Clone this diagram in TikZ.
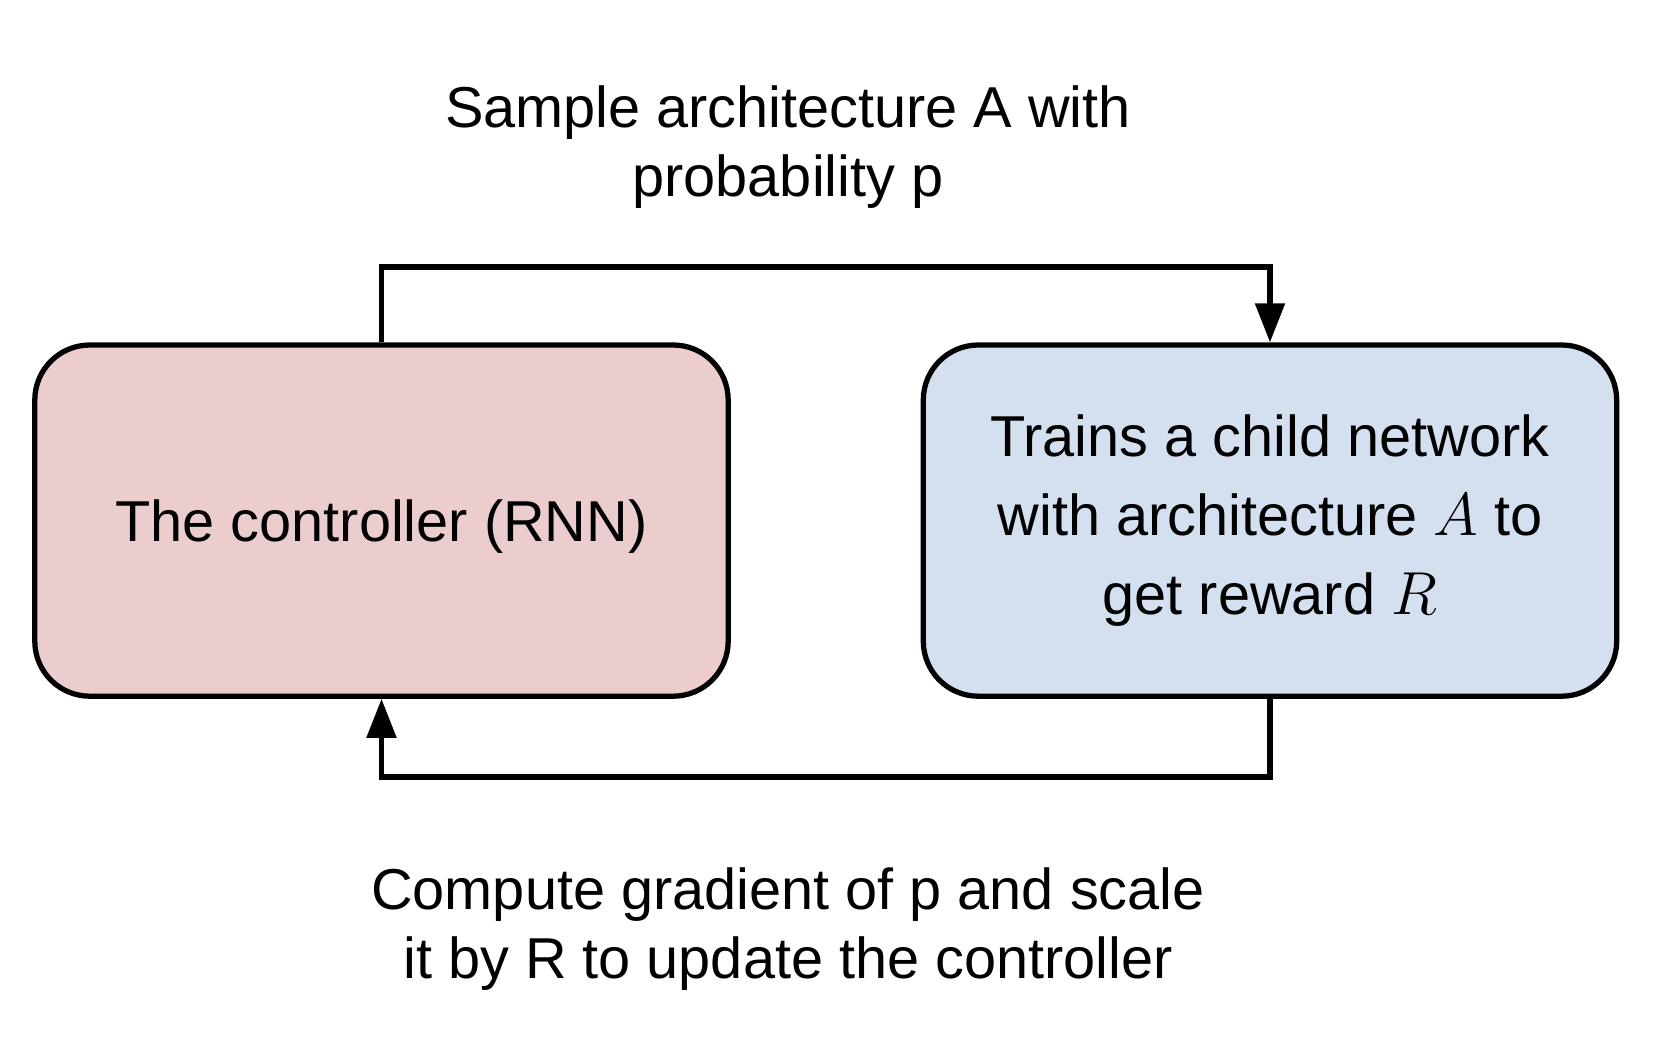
\documentclass[tikz,border=0pt]{standalone}
\usepackage{fontspec}
\setmainfont{Liberation Sans}
\usepackage{tikz}
\usetikzlibrary{arrows.meta}
\usepackage{color}
\definecolor{Ctrl-fill}{RGB}{236,205,205}
\definecolor{Child-fill}{RGB}{212,224,240}

\tikzset{
  blockbox/.style={draw=black, line width=1.5pt, rounded corners=0.55cm, minimum width=6.93cm, minimum height=3.51cm, align=center, font=\fontsize{16.4}{22.4}\selectfont},
  notetext/.style={align=center, font=\fontsize{16.4}{19.6}\selectfont},
  feedback/.style={line width=1.5pt, -{Triangle[length=0.39cm, width=0.29cm]}}
}

\begin{document}
\begin{tikzpicture}[x=0.01cm, y=-0.01cm]
    \useasboundingbox (0, 0) rectangle (1662, 1054);

    \node[blockbox, fill=Ctrl-fill, text depth=0pt] (ctrl)  at (381.5, 520.6) {The controller (RNN)};
    \node[blockbox, fill=Child-fill] (child) at (1270, 520.6) {Trains a child network\\with architecture $A$ to\\get reward $R$};

    \node[notetext] (sample_txt)   at (788, 147.2) {Sample architecture A with\\probability p};
    \node[notetext] (gradient_txt) at (788, 929.5) {Compute gradient of p and scale\\it by R to update the controller};

    \coordinate (top_turn) at (381.5, 267);
    \coordinate (bot_turn) at (1270, 777);

    \draw[feedback] (ctrl.north) -- (top_turn) -| (child.north);
    \draw[feedback] (child.south) -- (bot_turn) -| (ctrl.south);
\end{tikzpicture}
\end{document}
